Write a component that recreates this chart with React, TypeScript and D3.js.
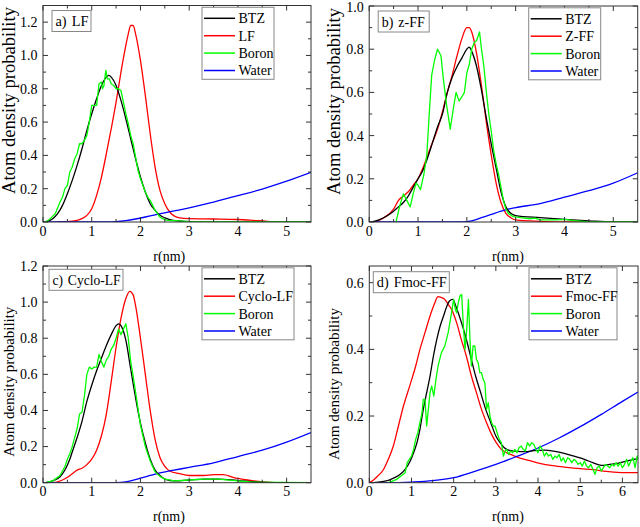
import React from "react";
import * as d3 from "d3";

type P = [number, number];

// ---------- data ----------
const seriesColors = ["#000000", "#ff0000", "#00ff00", "#0000ff"];
const panelTags = ["a)", "b)", "c)", "d)"];
const panelTitles = ["LF", "z-FF", "Cyclo-LF", "Fmoc-FF"];
const peptideLegend = ["LF", "Z-FF", "Cyclo-LF", "Fmoc-FF"];
const otherLegend = ["BTZ", "Boron", "Water"];
const xMaxes = [5.5, 5.5, 5.5, 6.37];
const yMaxes = [1.3, 1.0, 1.2, 0.65];
const xTicks55 = [0, 1, 2, 3, 4, 5];
const xTicks64 = [0, 1, 2, 3, 4, 5, 6];
const yTicksA = [0, 0.2, 0.4, 0.6, 0.8, 1.0, 1.2];
const yTicksB = [0, 0.2, 0.4, 0.6, 0.8, 1.0];
const yTicksC = [0, 0.2, 0.4, 0.6, 0.8, 1.0, 1.2];
const yTicksD = [0, 0.2, 0.4, 0.6];
const xLabel = "r(nm)";
const yLabel = "Atom density probability";

// panel a) LF
const lfBTZ: P[] = [[0.05,0],[0.2,0.02],[0.3,0.05],[0.4,0.1],[0.5,0.17],[0.6,0.25],[0.7,0.34],[0.8,0.44],[0.9,0.55],[1.0,0.65],[1.1,0.74],[1.2,0.82],[1.3,0.87],[1.35,0.88],[1.4,0.87],[1.5,0.82],[1.6,0.73],[1.7,0.62],[1.8,0.5],[1.9,0.38],[2.0,0.27],[2.1,0.18],[2.2,0.11],[2.3,0.07],[2.4,0.04],[2.5,0.025],[2.6,0.015],[2.8,0.006],[3.0,0.002],[3.5,0],[5.5,0]];
const lfPep: P[] = [[0.3,0],[0.5,0.002],[0.6,0.005],[0.7,0.01],[0.8,0.02],[0.9,0.04],[1.0,0.08],[1.1,0.16],[1.2,0.27],[1.3,0.41],[1.4,0.56],[1.5,0.72],[1.6,0.9],[1.7,1.06],[1.75,1.13],[1.8,1.18],[1.85,1.18],[1.9,1.13],[2.0,0.97],[2.1,0.76],[2.2,0.53],[2.3,0.33],[2.4,0.19],[2.5,0.11],[2.6,0.06],[2.7,0.035],[2.8,0.025],[3.0,0.02],[3.5,0.018],[4.0,0.015],[4.3,0.01],[4.6,0.004],[5.0,0.001],[5.5,0]];
const lfBoron: P[] = [[0.05,0],[0.15,0.02],[0.25,0.05],[0.35,0.12],[0.4,0.15],[0.45,0.2],[0.5,0.22],[0.55,0.3],[0.6,0.33],[0.65,0.38],[0.7,0.41],[0.75,0.47],[0.8,0.47],[0.85,0.49],[0.9,0.52],[0.95,0.6],[1.0,0.7],[1.05,0.7],[1.1,0.7],[1.15,0.83],[1.2,0.84],[1.22,0.8],[1.25,0.82],[1.29,0.91],[1.32,0.86],[1.36,0.86],[1.4,0.83],[1.45,0.82],[1.5,0.8],[1.55,0.8],[1.6,0.79],[1.65,0.72],[1.7,0.65],[1.75,0.59],[1.8,0.52],[1.85,0.47],[1.9,0.39],[1.95,0.31],[2.0,0.26],[2.05,0.22],[2.1,0.18],[2.15,0.15],[2.2,0.13],[2.25,0.1],[2.3,0.07],[2.35,0.05],[2.4,0.03],[2.45,0.02],[2.55,0.01],[2.7,0.008],[3.0,0.002],[5.5,0]];
const lfWater: P[] = [[0,0],[1.3,0],[1.5,0.002],[1.7,0.008],[1.9,0.018],[2.1,0.03],[2.3,0.043],[2.5,0.055],[2.75,0.07],[3.0,0.085],[3.5,0.12],[4.0,0.158],[4.5,0.198],[5.0,0.245],[5.5,0.298]];

// panel b) z-FF
const zffBTZ: P[] = [[0.05,0],[0.2,0.01],[0.36,0.028],[0.5,0.05],[0.6,0.07],[0.7,0.09],[0.8,0.12],[0.9,0.16],[1.0,0.2],[1.1,0.24],[1.2,0.3],[1.3,0.37],[1.4,0.44],[1.5,0.5],[1.6,0.6],[1.7,0.67],[1.8,0.72],[1.9,0.76],[2.0,0.8],[2.05,0.81],[2.1,0.79],[2.2,0.72],[2.3,0.61],[2.4,0.48],[2.5,0.36],[2.6,0.25],[2.7,0.14],[2.8,0.07],[2.9,0.04],[3.0,0.03],[3.5,0.02],[4.0,0.012],[4.5,0.005],[5.0,0],[5.5,0]];
const zffPep: P[] = [[0.1,0],[0.3,0.02],[0.5,0.06],[0.6,0.1],[0.7,0.12],[0.8,0.14],[0.9,0.17],[1.0,0.2],[1.1,0.25],[1.2,0.31],[1.3,0.37],[1.4,0.43],[1.5,0.51],[1.6,0.6],[1.7,0.68],[1.8,0.77],[1.9,0.85],[2.0,0.9],[2.05,0.9],[2.1,0.88],[2.2,0.78],[2.3,0.63],[2.4,0.46],[2.5,0.31],[2.6,0.18],[2.7,0.09],[2.8,0.04],[2.9,0.02],[3.0,0.01],[3.5,0.003],[4.0,0],[5.5,0]];
const zffBoron: P[] = [[0.55,0],[0.62,0.07],[0.7,0.13],[0.77,0.1],[0.84,0.07],[0.9,0.13],[0.96,0.18],[1.0,0.17],[1.05,0.15],[1.12,0.22],[1.18,0.31],[1.23,0.5],[1.28,0.68],[1.34,0.75],[1.4,0.8],[1.47,0.77],[1.52,0.66],[1.58,0.55],[1.66,0.43],[1.72,0.52],[1.78,0.6],[1.84,0.56],[1.9,0.58],[1.95,0.6],[2.0,0.69],[2.05,0.73],[2.1,0.8],[2.15,0.83],[2.2,0.84],[2.26,0.88],[2.3,0.8],[2.35,0.72],[2.4,0.6],[2.45,0.5],[2.5,0.42],[2.55,0.33],[2.6,0.27],[2.65,0.22],[2.7,0.16],[2.75,0.1],[2.8,0.06],[2.85,0.04],[2.95,0.025],[3.1,0.02],[3.3,0.015],[3.4,0.018],[3.5,0.01],[3.8,0.01],[4.0,0.012],[4.2,0.006],[4.5,0],[5.5,0]];
const zffWater: P[] = [[0,0],[1.9,0],[2.1,0.005],[2.3,0.02],[2.5,0.035],[2.7,0.05],[2.85,0.06],[3.0,0.067],[3.5,0.085],[4.0,0.115],[4.5,0.145],[5.0,0.18],[5.5,0.228]];

// panel c) Cyclo-LF
const cycBTZ: P[] = [[0.05,0],[0.2,0.01],[0.35,0.033],[0.45,0.07],[0.55,0.13],[0.6,0.17],[0.7,0.25],[0.8,0.34],[0.9,0.45],[1.0,0.54],[1.1,0.62],[1.2,0.69],[1.3,0.76],[1.4,0.82],[1.5,0.87],[1.55,0.88],[1.6,0.87],[1.7,0.79],[1.8,0.63],[1.9,0.47],[2.0,0.33],[2.1,0.22],[2.2,0.13],[2.3,0.07],[2.4,0.04],[2.5,0.02],[2.7,0.01],[3.0,0.015],[3.3,0.02],[3.6,0.02],[4.0,0.012],[4.5,0.002],[5.0,0],[5.5,0]];
const cycPep: P[] = [[0.2,0],[0.3,0.005],[0.4,0.015],[0.5,0.03],[0.6,0.05],[0.7,0.07],[0.8,0.08],[0.9,0.1],[1.0,0.13],[1.1,0.18],[1.2,0.26],[1.3,0.38],[1.4,0.56],[1.5,0.75],[1.6,0.91],[1.7,1.02],[1.78,1.06],[1.85,1.04],[1.9,0.98],[2.0,0.8],[2.1,0.6],[2.2,0.4],[2.3,0.24],[2.4,0.14],[2.5,0.09],[2.6,0.065],[2.8,0.05],[3.0,0.04],[3.3,0.04],[3.5,0.045],[3.7,0.045],[3.9,0.03],[4.2,0.015],[4.5,0.005],[5.0,0],[5.5,0]];
const cycBoron: P[] = [[0.05,0],[0.2,0.01],[0.35,0.04],[0.45,0.09],[0.5,0.13],[0.55,0.16],[0.6,0.2],[0.65,0.25],[0.7,0.3],[0.75,0.38],[0.8,0.39],[0.85,0.48],[0.9,0.6],[0.95,0.64],[1.0,0.63],[1.05,0.64],[1.1,0.64],[1.15,0.71],[1.2,0.67],[1.25,0.64],[1.3,0.68],[1.35,0.7],[1.4,0.74],[1.45,0.76],[1.5,0.8],[1.55,0.85],[1.6,0.82],[1.65,0.85],[1.7,0.88],[1.75,0.8],[1.8,0.67],[1.85,0.59],[1.9,0.5],[1.95,0.41],[2.0,0.32],[2.05,0.26],[2.1,0.2],[2.2,0.12],[2.3,0.06],[2.4,0.035],[2.5,0.02],[2.7,0.01],[3.0,0.015],[3.3,0.02],[3.6,0.02],[4.0,0.01],[4.3,0.003],[5.5,0]];
const cycWater: P[] = [[0,0],[1.4,0],[1.6,0.002],[1.8,0.01],[2.0,0.025],[2.2,0.04],[2.4,0.055],[2.6,0.065],[3.0,0.085],[3.5,0.11],[4.0,0.145],[4.5,0.18],[5.0,0.225],[5.5,0.278]];

// panel d) Fmoc-FF
const fmBTZ: P[] = [[0.1,0],[0.3,0.003],[0.47,0.008],[0.6,0.015],[0.71,0.023],[0.85,0.04],[0.97,0.065],[1.05,0.09],[1.13,0.12],[1.2,0.16],[1.28,0.22],[1.36,0.27],[1.44,0.32],[1.52,0.38],[1.6,0.43],[1.68,0.47],[1.76,0.5],[1.84,0.53],[1.9,0.545],[1.98,0.55],[2.05,0.53],[2.16,0.49],[2.28,0.44],[2.4,0.38],[2.52,0.32],[2.64,0.27],[2.76,0.22],[2.88,0.18],[3.0,0.14],[3.1,0.12],[3.2,0.105],[3.3,0.098],[3.5,0.094],[3.7,0.093],[3.9,0.096],[4.15,0.098],[4.4,0.094],[4.62,0.088],[4.85,0.08],[5.1,0.07],[5.3,0.06],[5.5,0.052],[5.7,0.055],[5.85,0.057],[6.0,0.062],[6.2,0.068],[6.37,0.072]];
const fmPep: P[] = [[0,0],[0.1,0.008],[0.2,0.02],[0.33,0.038],[0.45,0.07],[0.57,0.11],[0.69,0.17],[0.81,0.23],[0.97,0.295],[1.1,0.35],[1.2,0.4],[1.32,0.45],[1.44,0.5],[1.54,0.535],[1.63,0.558],[1.7,0.556],[1.79,0.55],[1.87,0.535],[1.95,0.52],[2.07,0.48],[2.18,0.43],[2.3,0.38],[2.42,0.32],[2.54,0.27],[2.66,0.22],[2.78,0.18],[2.9,0.145],[3.01,0.12],[3.13,0.1],[3.25,0.09],[3.4,0.082],[3.57,0.074],[3.8,0.066],[4.04,0.058],[4.35,0.051],[4.68,0.046],[5.0,0.042],[5.31,0.039],[5.55,0.035],[5.79,0.032],[6.1,0.03],[6.37,0.03]];
const fmBoron: P[] = [[0.45,0],[0.55,0.005],[0.65,0.01],[0.75,0.02],[0.85,0.03],[0.9,0.06],[1.0,0.08],[1.05,0.1],[1.1,0.13],[1.15,0.15],[1.2,0.18],[1.25,0.21],[1.28,0.25],[1.32,0.25],[1.36,0.17],[1.4,0.22],[1.44,0.27],[1.48,0.29],[1.53,0.26],[1.58,0.31],[1.63,0.35],[1.67,0.37],[1.71,0.39],[1.75,0.4],[1.79,0.41],[1.83,0.43],[1.87,0.45],[1.91,0.48],[1.95,0.51],[2.0,0.55],[2.04,0.52],[2.07,0.51],[2.11,0.54],[2.15,0.56],[2.19,0.565],[2.23,0.47],[2.27,0.4],[2.31,0.46],[2.35,0.55],[2.39,0.42],[2.42,0.35],[2.46,0.41],[2.5,0.41],[2.54,0.37],[2.58,0.36],[2.62,0.33],[2.66,0.33],[2.7,0.31],[2.74,0.3],[2.78,0.22],[2.82,0.24],[2.86,0.2],[2.9,0.18],[2.94,0.17],[2.98,0.17],[3.03,0.15],[3.08,0.13],[3.13,0.12],[3.18,0.08],[3.22,0.095],[3.26,0.1],[3.3,0.085],[3.35,0.095],[3.4,0.09],[3.45,0.1],[3.5,0.09],[3.55,0.105],[3.6,0.11],[3.65,0.1],[3.7,0.095],[3.75,0.12],[3.8,0.11],[3.85,0.12],[3.9,0.115],[3.95,0.1],[4.0,0.09],[4.05,0.11],[4.1,0.1],[4.15,0.08],[4.2,0.09],[4.25,0.08],[4.3,0.085],[4.35,0.07],[4.4,0.08],[4.45,0.075],[4.5,0.085],[4.55,0.065],[4.6,0.075],[4.65,0.06],[4.7,0.075],[4.75,0.07],[4.8,0.06],[4.85,0.07],[4.9,0.065],[4.95,0.055],[5.0,0.06],[5.05,0.05],[5.1,0.065],[5.15,0.05],[5.2,0.045],[5.25,0.055],[5.3,0.04],[5.35,0.025],[5.4,0.045],[5.45,0.05],[5.5,0.035],[5.55,0.045],[5.6,0.055],[5.65,0.05],[5.7,0.045],[5.75,0.055],[5.8,0.05],[5.85,0.06],[5.9,0.05],[5.95,0.06],[6.0,0.045],[6.05,0.055],[6.1,0.07],[6.15,0.05],[6.2,0.065],[6.25,0.075],[6.3,0.045],[6.35,0.08],[6.37,0.07]];
const fmWater: P[] = [[0,0],[0.5,0],[1.0,0.002],[1.5,0.006],[2.0,0.015],[2.5,0.034],[3.0,0.055],[3.5,0.079],[4.0,0.104],[4.5,0.134],[5.0,0.168],[5.5,0.205],[6.0,0.244],[6.37,0.272]];

// ---------- layout ----------
const W = 640;
const H = 527;
const FONT = "'Liberation Serif', 'Times New Roman', serif";
const boxes = [
  { l: 43, r: 311, t: 5.5, b: 222 },
  { l: 369.2, r: 637.7, t: 6, b: 222 },
  { l: 43, r: 311, t: 266, b: 482.7 },
  { l: 369.3, r: 638, t: 266, b: 482.7 },
];
const tagBoxW = [39, 51, 74, 76];
const tagTextW = [33, 43, 68, 70];
const tagOffX = [9, 9, 6, 4];
const tagOffY = [5, 5, 3.3, 5.7];
const legendW = [72, 72, 92, 88];
const yLabelSize = [18, 18, 15, 15];
const yLabelLen = [187, 187, 150, 152];
const yLabelX = [8.5, 334, 9, 334];
const yLabelCY = [100.5, 101.5, 381.7, 384];
const xLabelX = [169.3, 508, 169, 508];

type Panel = {
  xMax: number;
  yMax: number;
  xTicks: number[];
  yTicks: number[];
  series: P[][];
};

const panels: Panel[] = [
  { xMax: xMaxes[0], yMax: yMaxes[0], xTicks: xTicks55, yTicks: yTicksA, series: [lfBTZ, lfPep, lfBoron, lfWater] },
  { xMax: xMaxes[1], yMax: yMaxes[1], xTicks: xTicks55, yTicks: yTicksB, series: [zffBTZ, zffPep, zffBoron, zffWater] },
  { xMax: xMaxes[2], yMax: yMaxes[2], xTicks: xTicks55, yTicks: yTicksC, series: [cycBTZ, cycPep, cycBoron, cycWater] },
  { xMax: xMaxes[3], yMax: yMaxes[3], xTicks: xTicks64, yTicks: yTicksD, series: [fmBTZ, fmPep, fmBoron, fmWater] },
];

function PanelView({ p, i }: { p: Panel; i: number }) {
  const bx = boxes[i];
  const x = d3.scaleLinear().domain([0, p.xMax]).range([bx.l, bx.r]);
  const y = d3.scaleLinear().domain([0, p.yMax]).range([bx.b, bx.t]);
  const smooth = d3.line<P>().x((d) => x(d[0])).y((d) => y(d[1])).curve(d3.curveMonotoneX);
  const jag = d3.line<P>().x((d) => x(d[0])).y((d) => y(d[1])).curve(d3.curveLinear);
  const xMinor = d3.range(0.5, p.xMax, 1);
  const yMinor = d3.range(1, Math.floor(p.yMax * 10 + 1e-6) + 1, 2).map((k) => k / 10);
  const fmt = d3.format(".1f");
  const clipId = `clip${i}`;
  const legendLabels = [otherLegend[0], peptideLegend[i], otherLegend[1], otherLegend[2]];
  const lgL = bx.r - 109;
  const lgT = bx.t + 1.8;
  const tagL = bx.l + tagOffX[i];
  const tagT = bx.t + tagOffY[i];
  const order = [1, 3, 0, 2];
  return (
    <g>
      <defs>
        <clipPath id={clipId}>
          <rect x={bx.l} y={bx.t} width={bx.r - bx.l} height={bx.b - bx.t} />
        </clipPath>
      </defs>
      <g clipPath={`url(#${clipId})`} fill="none" strokeWidth={1.3} strokeLinejoin="round">
        {order.map((k) => (
          <path key={k} d={(k === 2 ? jag : smooth)(p.series[k]) || ""} stroke={seriesColors[k]} />
        ))}
      </g>
      <rect x={bx.l} y={bx.t} width={bx.r - bx.l} height={bx.b - bx.t} fill="none" stroke="#333" strokeWidth={1} />
      <g stroke="#333" strokeWidth={1}>
        {p.xTicks.map((v) => (
          <g key={`xt${v}`}>
            <line x1={x(v)} x2={x(v)} y1={bx.b} y2={bx.b - 5} />
            <line x1={x(v)} x2={x(v)} y1={bx.t} y2={bx.t + 5} />
          </g>
        ))}
        {xMinor.map((v) => (
          <g key={`xm${v}`}>
            <line x1={x(v)} x2={x(v)} y1={bx.b} y2={bx.b - 3} />
            <line x1={x(v)} x2={x(v)} y1={bx.t} y2={bx.t + 3} />
          </g>
        ))}
        {p.yTicks.map((v) => (
          <g key={`yt${v}`}>
            <line x1={bx.l} x2={bx.l + 5} y1={y(v)} y2={y(v)} />
            <line x1={bx.r} x2={bx.r - 5} y1={y(v)} y2={y(v)} />
          </g>
        ))}
        {yMinor.map((v) => (
          <g key={`ym${v}`}>
            <line x1={bx.l} x2={bx.l + 3} y1={y(v)} y2={y(v)} />
            <line x1={bx.r} x2={bx.r - 3} y1={y(v)} y2={y(v)} />
          </g>
        ))}
      </g>
      <g fontFamily={FONT} fontSize={14} fill="#000">
        {p.xTicks.map((v) => (
          <text key={`xl${v}`} x={x(v)} y={bx.b + 13.5} textAnchor="middle">{v}</text>
        ))}
        {p.yTicks.map((v) => (
          <text key={`yl${v}`} x={bx.l - 5.5} y={Math.max(y(v), 7.5)} dy="0.35em" textAnchor="end">{fmt(v)}</text>
        ))}
        <text x={xLabelX[i]} y={bx.b + 38.5} textAnchor="middle">{xLabel}</text>
        <text
          transform={`translate(${yLabelX[i] + yLabelSize[i] * 0.35},${yLabelCY[i]}) rotate(-90)`}
          textAnchor="middle"
          fontSize={yLabelSize[i]}
          textLength={yLabelLen[i]}
          lengthAdjust="spacingAndGlyphs"
        >
          {yLabel}
        </text>
      </g>
      {/* panel tag box */}
      <rect x={tagL} y={tagT} width={tagBoxW[i]} height={21} fill="#fff" stroke="#888" strokeWidth={1} />
      <text
        x={tagL + 3.5}
        y={tagT + 15.5}
        fontFamily={FONT}
        fontSize={14}
        fill="#000"
        textLength={tagTextW[i]}
        lengthAdjust="spacingAndGlyphs"
      >
        <tspan>{panelTags[i]}</tspan>
        <tspan dx={5}>{panelTitles[i]}</tspan>
      </text>
      {/* legend */}
      <rect x={lgL} y={lgT} width={legendW[i]} height={72} fill="#fff" stroke="#888" strokeWidth={1} />
      {legendLabels.map((lab, k) => {
        const cy = lgT + 11 + 17.4 * k;
        return (
          <g key={lab + k}>
            <line x1={lgL + 2} x2={lgL + 33} y1={cy} y2={cy} stroke={seriesColors[k]} strokeWidth={1.5} />
            <text x={lgL + 36.5} y={cy} dy="0.35em" fontFamily={FONT} fontSize={14} fill="#000">{lab}</text>
          </g>
        );
      })}
    </g>
  );
}

export default function App() {
  return (
    <svg
      width={W}
      height={H}
      viewBox={`0 0 ${W} ${H}`}
      style={{ position: "absolute", left: 0, top: 0, display: "block", background: "#fff" }}
    >
      <rect x={0} y={0} width={W} height={H} fill="#fff" />
      {panels.map((p, i) => (
        <PanelView key={i} p={p} i={i} />
      ))}
    </svg>
  );
}
